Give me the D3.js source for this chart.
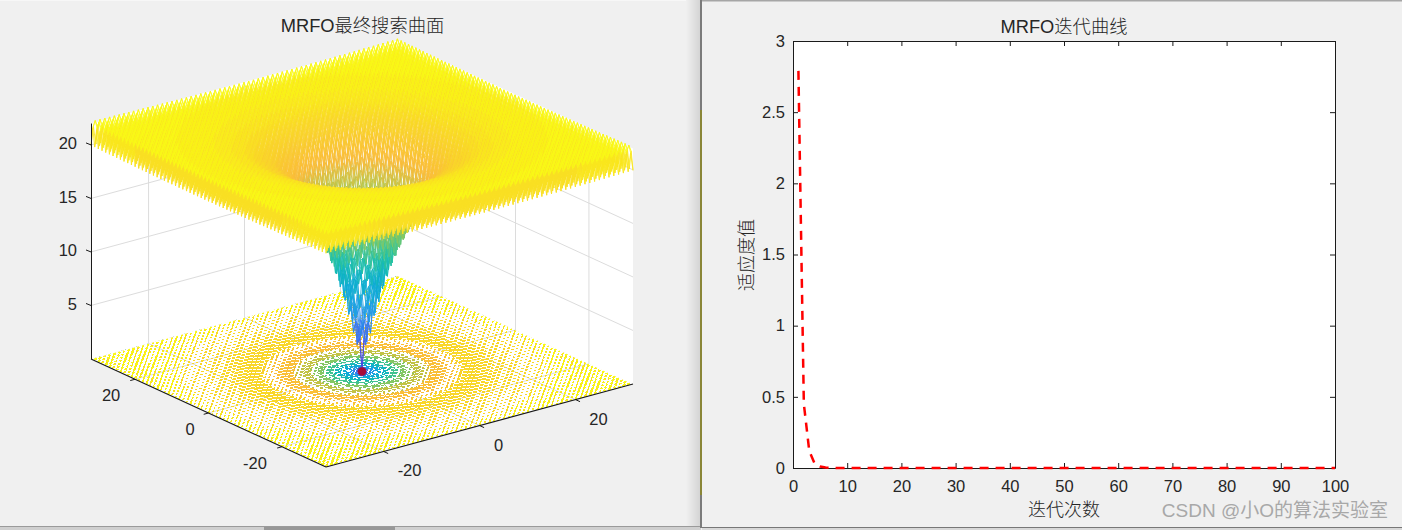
<!DOCTYPE html>
<html><head><meta charset="utf-8">
<script src="https://cdn.jsdelivr.net/npm/d3@7"></script>
<style>
html,body{margin:0;padding:0;background:#f0f0f0;overflow:hidden}
svg{display:block}
text{font-family:"Liberation Sans",Arial,"Noto Sans CJK SC",sans-serif;fill:#262626}
</style></head><body>
<svg id="c" width="1402" height="530"></svg>
<script>
// ---- data ----
const titleLeft = "MRFO最终搜索曲面";
const titleRight = "MRFO迭代曲线";
const xLabelRight = "迭代次数";
const yLabelRight = "适应度值";
const watermark = "CSDN @小O的算法实验室";

const iterX = [1,2,3,4,5,6,7,8,10,20,30,40,50,60,70,80,90,100];
const iterY = [2.79,0.45,0.12,0.03,0.01,0.003,0.001,0,0,0,0,0,0,0,0,0,0,0];
const rightXTicks = [0,10,20,30,40,50,60,70,80,90,100];
const rightYTicks = [0,0.5,1,1.5,2,2.5,3];

const gridXY = d3.range(-32,32.5,0.5);
const profileRadius = [0,0.5,1,1.5,2,2.5,3,4,5,6,7,8,10,12,15,20,25,32,46];
const profileHeight = [0,1.35,2.64,3.82,4.93,5.96,6.91,8.64,10.14,11.44,12.57,13.55,15.14,16.34,17.6,18.82,19.42,19.78,19.97];
const rippleOffset = [0,1.72,2.35];   // tooth height by number of half-step coordinates
const contourLevels = [2,4,6,8,10,12,14,16,18,20,22];
const axisTicksXY = [-20,0,20];
const axisTicksZ = [5,10,15,20];
const bestPoint = [0,0,0];

const parulaStops = ["#3e26a8","#4754f5","#2f7ff0","#1ca5e0","#0aaed0","#1fc0a8","#6dc870","#b0c648","#fabb3a","#f9d52a","#f9fb14"];

// ---- scales ----
const svg = d3.select("#c");
const dom = [-32,32];
const xScreenX = d3.scaleLinear().domain(dom).range([0,307]);
const xScreenY = d3.scaleLinear().domain(dom).range([0,-83]);
const yScreenX = d3.scaleLinear().domain(dom).range([0,-235]);
const yScreenY = d3.scaleLinear().domain(dom).range([0,-108]);
const zScreen = d3.scaleLinear().domain([0,22]).range([0,-235.5]);
function proj(x,y,z){
  // anchored on the bottom corner (x=-32, y=-32)
  return [326 + xScreenX(x) + yScreenX(y),
          467 + xScreenY(x) + yScreenY(y) + zScreen(z)];
}
const profile = d3.scaleLinear().domain(profileRadius).range(profileHeight);
const colorT = d3.scaleLinear().domain([0,22.1]).range([0,1]).clamp(true);
const parula = d3.scaleLinear().domain(d3.range(parulaStops.length).map(i=>i/(parulaStops.length-1))).range(parulaStops).interpolate(d3.interpolateRgb);
const zAt = (x,y)=>{
  const half = (Number.isInteger(x)?0:1)+(Number.isInteger(y)?0:1);
  return profile(Math.hypot(x,y)) + rippleOffset[half];
};

// ---- window chrome ----
svg.append("rect").attr("width",1402).attr("height",530).attr("fill","#f0f0f0");
svg.append("rect").attr("x",0).attr("y",0).attr("width",700).attr("height",1).attr("fill","#f7f7f7");
const defs = svg.append("defs");
const sh = defs.append("linearGradient").attr("id","sh");
sh.append("stop").attr("offset",0).attr("stop-color","#f0f0f0");
sh.append("stop").attr("offset",1).attr("stop-color","#d4d4d4");
const soft = defs.append("filter").attr("id","soft").attr("x","-2%").attr("y","-2%").attr("width","104%").attr("height","104%");
soft.append("feGaussianBlur").attr("stdDeviation",0.35);
svg.append("rect").attr("x",686).attr("y",0).attr("width",14).attr("height",527).attr("fill","url(#sh)");
svg.append("rect").attr("x",0).attr("y",527).attr("width",701).attr("height",3).attr("fill","#cfcfcf");
svg.append("rect").attr("x",0).attr("y",526).attr("width",701).attr("height",1).attr("fill","#9a9a9a");
svg.append("rect").attr("x",264).attr("y",527).attr("width",131).attr("height",3).attr("fill","#979797");
svg.append("rect").attr("x",702).attr("y",528).attr("width",700).attr("height",2).attr("fill","#d8d8d8");
svg.append("rect").attr("x",702).attr("y",527).attr("width",700).attr("height",1).attr("fill","#777");
svg.append("rect").attr("x",700).attr("y",0).attr("width",2).attr("height",528).attr("fill","#7b7b7b");
svg.append("rect").attr("x",700).attr("y",110).attr("width",2).attr("height",385).attr("fill","#8f8a20").attr("opacity",0.75);
svg.append("rect").attr("x",702).attr("y",0).attr("width",700).attr("height",1.5).attr("fill","#a6a6a6");

// ---- left 3-D axes ----
const g3 = svg.append("g");
const P = (x,y,z)=>proj(x,y,z).join(",");
const ZT = 22;
g3.append("polygon").attr("fill","#fff").attr("points",[
  P(-32,32,ZT),P(32,32,ZT),P(32,-32,ZT),P(32,-32,0),P(-32,-32,0),P(-32,32,0)].join(" "));
const gridC = "#dcdcdc";
const seg = (a,b,c,w)=>g3.append("line").attr("x1",a[0]).attr("y1",a[1]).attr("x2",b[0]).attr("y2",b[1]).attr("stroke",c).attr("stroke-width",w||1);
axisTicksXY.forEach(t=>{
  seg(proj(t,32,0),proj(t,32,ZT),gridC);
  seg(proj(32,t,0),proj(32,t,ZT),gridC);
  seg(proj(t,-32,0),proj(t,32,0),gridC);
  seg(proj(-32,t,0),proj(32,t,0),gridC);
});
axisTicksZ.forEach(t=>{
  seg(proj(-32,32,t),proj(32,32,t),gridC);
  seg(proj(32,32,t),proj(32,-32,t),gridC);
});

// ---- floor contours ----
const n = gridXY.length;
const values = new Float64Array(n*n);
gridXY.forEach((y,j)=>gridXY.forEach((x,i)=>{values[j*n+i]=zAt(x,y);}));
const cellX = d3.scaleLinear().domain([0.5,n-0.5]).range(dom);
const cellY = d3.scaleLinear().domain([0.5,n-0.5]).range(dom);
const floorPath = d3.geoPath(d3.geoTransform({point(px,py){
  const p = proj(cellX(px),cellY(py),0); this.stream.point(p[0],p[1]);
}}));
const clip = defs.append("clipPath").attr("id","floorClip");
clip.append("polygon").attr("points",[P(-31.9,-31.9,0),P(31.9,-31.9,0),P(31.9,31.9,0),P(-31.9,31.9,0)].join(" "));
const contourGen = d3.contours().size([n,n]).thresholds(contourLevels);
const gc = g3.append("g").attr("clip-path","url(#floorClip)").attr("fill","none").attr("shape-rendering","crispEdges").attr("stroke-width",1);
contourGen(values).forEach(c=>{
  gc.append("path").attr("d",floorPath(c)).attr("stroke",parula(colorT(c.value)));
});

// ---- mesh, painted from low to high ----
const BINS = 64;
const binOf = z=>Math.min(BINS-1,Math.floor(colorT(z)*BINS));
const faces = d3.range(BINS).map(()=>[]), edges = d3.range(BINS).map(()=>[]);
const f1 = v=>v.toFixed(1);
const screen = gridXY.map(y=>gridXY.map(x=>proj(x,y,zAt(x,y))));
for(let j=0;j<n;j++)for(let i=0;i<n;i++){
  const a=screen[j][i], za=values[j*n+i];
  if(i<n-1){const b=screen[j][i+1];edges[binOf((za+values[j*n+i+1])/2)].push(`M${f1(a[0])} ${f1(a[1])}L${f1(b[0])} ${f1(b[1])}`);}
  if(j<n-1){const b=screen[j+1][i];edges[binOf((za+values[(j+1)*n+i])/2)].push(`M${f1(a[0])} ${f1(a[1])}L${f1(b[0])} ${f1(b[1])}`);}
  if(i<n-1&&j<n-1){
    const b=screen[j][i+1],c=screen[j+1][i+1],d=screen[j+1][i];
    const zm=Math.min(za,values[j*n+i+1],values[(j+1)*n+i+1],values[(j+1)*n+i]);
    faces[binOf(zm)].push(`M${f1(a[0])} ${f1(a[1])}L${f1(b[0])} ${f1(b[1])}L${f1(c[0])} ${f1(c[1])}L${f1(d[0])} ${f1(d[1])}Z`);
  }
}
const gm = g3.append("g").attr("filter","url(#soft)");
for(let b=0;b<BINS;b++){
  if(faces[b].length) gm.append("path").attr("d",faces[b].join("")).attr("fill","#fff");
  if(edges[b].length) gm.append("path").attr("d",edges[b].join("")).attr("fill","none")
    .attr("stroke",parula((b+0.5)/BINS)).attr("stroke-width",0.95).attr("stroke-opacity",0.9);
}

// best point
const bp = proj(...bestPoint);
g3.append("circle").attr("cx",bp[0]).attr("cy",bp[1]).attr("r",4.5).attr("fill","#a80a38").attr("stroke","#3a4fd0").attr("stroke-width",0.5);

// 3-D axis lines, ticks, labels
const ink = "#1a1a1a";
const zA=proj(-32,32,0), zB=proj(-32,32,ZT);
seg([zA[0]+0.5,zA[1]],[zB[0]+0.5,zB[1]],ink);
seg(proj(-32,32,0),proj(-32,-32,0),ink,1.2);
seg(proj(-32,-32,0),proj(32,-32,0),ink,1.2);
const xLabelNudge = [26,19,23], yLabelNudge = [-27,-18.5,-24];
axisTicksZ.forEach(t=>{
  const p=proj(-32,32,t); seg(p,[p[0]-5,p[1]-2],ink);
  g3.append("text").attr("x",77).attr("y",p[1]+4.5).attr("text-anchor","end").attr("font-size",16.5).text(t);
});
axisTicksXY.forEach((t,i)=>{
  const p=proj(t,-32,0); seg(p,[p[0]+4.6,p[1]+2.1],ink);
  g3.append("text").attr("x",p[0]+xLabelNudge[i]).attr("y",p[1]+25).attr("text-anchor","middle").attr("font-size",16.5).text(t);
  const q=proj(-32,t,0); seg(q,[q[0]-4.8,q[1]+1.3],ink);
  g3.append("text").attr("x",q[0]+yLabelNudge[i]).attr("y",q[1]+22).attr("text-anchor","middle").attr("font-size",16.5).text(t);
});
svg.append("text").attr("x",362.5).attr("y",32).attr("text-anchor","middle").attr("font-size",18.3).attr("font-weight",300).text(titleLeft);

// ---- right 2-D axes ----
const L=793,R=1335,T=41,B=468;
const xS = d3.scaleLinear().domain([0,100]).range([L,R]);
const yS = d3.scaleLinear().domain([0,3]).range([B,T]);
svg.append("rect").attr("x",L).attr("y",T).attr("width",R-L).attr("height",B-T).attr("fill","#fff");
const axStyle = (g)=>{g.selectAll("path,line").attr("stroke",ink);g.selectAll("text").attr("font-size",16.5).attr("font-family",'"Liberation Sans",Arial,sans-serif').attr("fill","#262626");};
const fmt = d=>String(d);
svg.append("g").attr("transform",`translate(0,${B})`).call(d3.axisBottom(xS).tickValues(rightXTicks).tickSize(-5).tickSizeOuter(0).tickPadding(12).tickFormat(fmt)).call(axStyle);
svg.append("g").attr("transform",`translate(0,${T})`).call(d3.axisTop(xS).tickValues(rightXTicks).tickSize(-5).tickSizeOuter(0).tickFormat("")).call(axStyle);
svg.append("g").attr("transform",`translate(${L},0)`).call(d3.axisLeft(yS).tickValues(rightYTicks).tickSize(-5).tickSizeOuter(0).tickPadding(8).tickFormat(fmt)).call(axStyle);
svg.append("g").attr("transform",`translate(${R},0)`).call(d3.axisRight(yS).tickValues(rightYTicks).tickSize(-5).tickSizeOuter(0).tickFormat("")).call(axStyle);
const line = d3.line().x((d,i)=>xS(iterX[i])).y(d=>yS(d));
svg.append("path").attr("d",line(iterY)).attr("fill","none").attr("stroke","#ff0000").attr("stroke-width",2.5).attr("stroke-dasharray","9 7");
svg.append("text").attr("x",1064).attr("y",33).attr("text-anchor","middle").attr("font-size",18.3).attr("font-weight",300).text(titleRight);
svg.append("text").attr("x",1064).attr("y",516).attr("text-anchor","middle").attr("font-size",18).attr("font-weight",300).text(xLabelRight);
svg.append("text").attr("transform","translate(753,255) rotate(-90)").attr("text-anchor","middle").attr("font-size",18).attr("font-weight",300).text(yLabelRight);
svg.append("text").attr("x",1388).attr("y",517).attr("text-anchor","end").attr("font-size",19).style("fill","#a8a8a8").text(watermark);
</script>
</body></html>
